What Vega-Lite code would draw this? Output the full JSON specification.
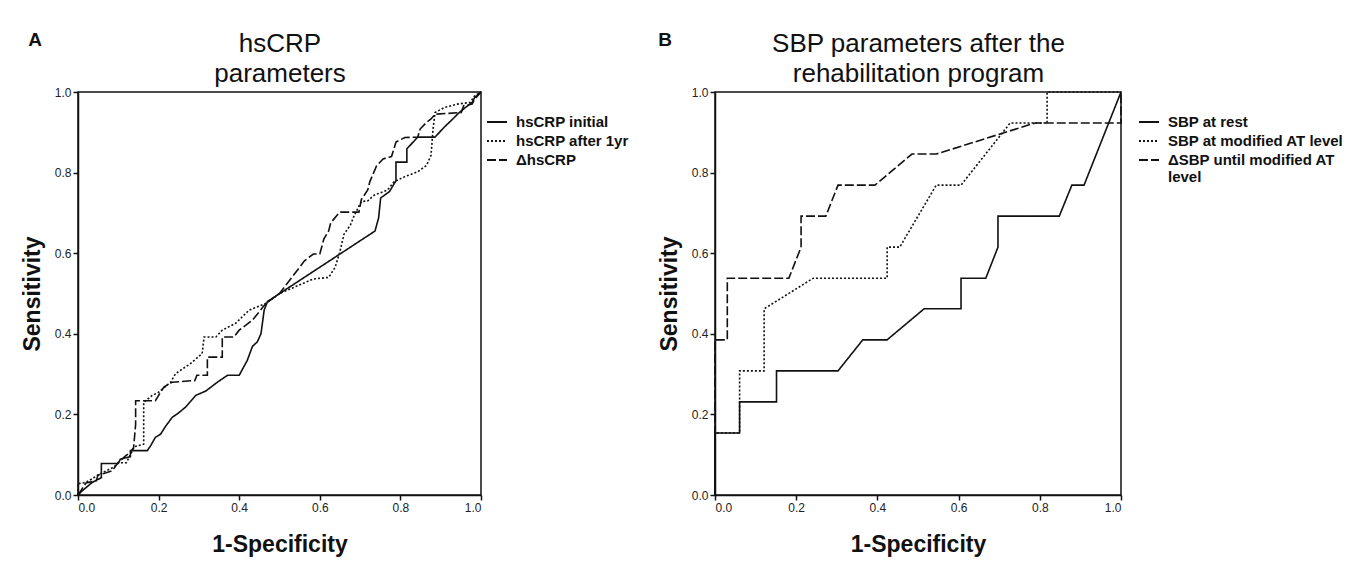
{
  "$schema": "https://vega.github.io/schema/vega-lite/v6.json",
  "background": "white",
  "padding": {"left": 20, "top": 29, "right": 5, "bottom": 5},
  "config": {
    "font": "Liberation Sans",
    "view": {"stroke": "#111", "strokeWidth": 1.5},
    "axis": {"grid": false, "domainColor": "#111", "domainWidth": 1.5, "tickColor": "#111", "tickWidth": 1.5, "tickSize": 5, "labelFont": "Liberation Sans Narrow, Liberation Sans", "labelFontSize": 12, "labelColor": "#222", "labelPadding": 2, "titleFont": "Liberation Sans", "titleFontSize": 23, "titleFontWeight": "bold", "titleColor": "#111"},
    "legend": {"labelFont": "Liberation Sans", "labelFontSize": 15, "labelFontWeight": "bold", "labelColor": "#111", "symbolType": "stroke", "symbolSize": 400, "symbolStrokeWidth": 2, "symbolStrokeColor": "#111", "rowPadding": 0, "labelOffset": 8, "padding": 0, "labelLimit": 400}
  },
  "datasets": {
    "rocA": [
      {"s":"hsCRP initial","i":0,"x":0,"y":0},
      {"s":"hsCRP initial","i":1,"x":0.01,"y":0.01},
      {"s":"hsCRP initial","i":2,"x":0.035,"y":0.031},
      {"s":"hsCRP initial","i":3,"x":0.058,"y":0.043},
      {"s":"hsCRP initial","i":4,"x":0.058,"y":0.078},
      {"s":"hsCRP initial","i":5,"x":0.1,"y":0.078},
      {"s":"hsCRP initial","i":6,"x":0.105,"y":0.089},
      {"s":"hsCRP initial","i":7,"x":0.13,"y":0.095},
      {"s":"hsCRP initial","i":8,"x":0.13,"y":0.11},
      {"s":"hsCRP initial","i":9,"x":0.172,"y":0.11},
      {"s":"hsCRP initial","i":10,"x":0.18,"y":0.122},
      {"s":"hsCRP initial","i":11,"x":0.192,"y":0.143},
      {"s":"hsCRP initial","i":12,"x":0.205,"y":0.151},
      {"s":"hsCRP initial","i":13,"x":0.217,"y":0.17},
      {"s":"hsCRP initial","i":14,"x":0.234,"y":0.193},
      {"s":"hsCRP initial","i":15,"x":0.246,"y":0.201},
      {"s":"hsCRP initial","i":16,"x":0.267,"y":0.218},
      {"s":"hsCRP initial","i":17,"x":0.292,"y":0.247},
      {"s":"hsCRP initial","i":18,"x":0.317,"y":0.258},
      {"s":"hsCRP initial","i":19,"x":0.346,"y":0.28},
      {"s":"hsCRP initial","i":20,"x":0.371,"y":0.297},
      {"s":"hsCRP initial","i":21,"x":0.4,"y":0.297},
      {"s":"hsCRP initial","i":22,"x":0.42,"y":0.334},
      {"s":"hsCRP initial","i":23,"x":0.433,"y":0.369},
      {"s":"hsCRP initial","i":24,"x":0.445,"y":0.38},
      {"s":"hsCRP initial","i":25,"x":0.454,"y":0.4},
      {"s":"hsCRP initial","i":26,"x":0.462,"y":0.459},
      {"s":"hsCRP initial","i":27,"x":0.47,"y":0.48},
      {"s":"hsCRP initial","i":28,"x":0.737,"y":0.655},
      {"s":"hsCRP initial","i":29,"x":0.746,"y":0.688},
      {"s":"hsCRP initial","i":30,"x":0.751,"y":0.737},
      {"s":"hsCRP initial","i":31,"x":0.773,"y":0.753},
      {"s":"hsCRP initial","i":32,"x":0.789,"y":0.78},
      {"s":"hsCRP initial","i":33,"x":0.789,"y":0.826},
      {"s":"hsCRP initial","i":34,"x":0.816,"y":0.826},
      {"s":"hsCRP initial","i":35,"x":0.816,"y":0.859},
      {"s":"hsCRP initial","i":36,"x":0.843,"y":0.888},
      {"s":"hsCRP initial","i":37,"x":0.886,"y":0.888},
      {"s":"hsCRP initial","i":38,"x":0.908,"y":0.912},
      {"s":"hsCRP initial","i":39,"x":0.93,"y":0.933},
      {"s":"hsCRP initial","i":40,"x":0.946,"y":0.949},
      {"s":"hsCRP initial","i":41,"x":0.962,"y":0.962},
      {"s":"hsCRP initial","i":42,"x":0.978,"y":0.974},
      {"s":"hsCRP initial","i":43,"x":0.984,"y":0.986},
      {"s":"hsCRP initial","i":44,"x":1,"y":1},
      {"s":"hsCRP after 1yr","i":0,"x":0,"y":0},
      {"s":"hsCRP after 1yr","i":1,"x":0,"y":0.028},
      {"s":"hsCRP after 1yr","i":2,"x":0.018,"y":0.031},
      {"s":"hsCRP after 1yr","i":3,"x":0.035,"y":0.04},
      {"s":"hsCRP after 1yr","i":4,"x":0.05,"y":0.05},
      {"s":"hsCRP after 1yr","i":5,"x":0.07,"y":0.06},
      {"s":"hsCRP after 1yr","i":6,"x":0.09,"y":0.07},
      {"s":"hsCRP after 1yr","i":7,"x":0.1,"y":0.08},
      {"s":"hsCRP after 1yr","i":8,"x":0.12,"y":0.08},
      {"s":"hsCRP after 1yr","i":9,"x":0.13,"y":0.1},
      {"s":"hsCRP after 1yr","i":10,"x":0.14,"y":0.12},
      {"s":"hsCRP after 1yr","i":11,"x":0.163,"y":0.126},
      {"s":"hsCRP after 1yr","i":12,"x":0.163,"y":0.23},
      {"s":"hsCRP after 1yr","i":13,"x":0.184,"y":0.247},
      {"s":"hsCRP after 1yr","i":14,"x":0.2,"y":0.255},
      {"s":"hsCRP after 1yr","i":15,"x":0.23,"y":0.28},
      {"s":"hsCRP after 1yr","i":16,"x":0.242,"y":0.301},
      {"s":"hsCRP after 1yr","i":17,"x":0.279,"y":0.326},
      {"s":"hsCRP after 1yr","i":18,"x":0.308,"y":0.351},
      {"s":"hsCRP after 1yr","i":19,"x":0.313,"y":0.392},
      {"s":"hsCRP after 1yr","i":20,"x":0.342,"y":0.392},
      {"s":"hsCRP after 1yr","i":21,"x":0.358,"y":0.409},
      {"s":"hsCRP after 1yr","i":22,"x":0.391,"y":0.426},
      {"s":"hsCRP after 1yr","i":23,"x":0.425,"y":0.459},
      {"s":"hsCRP after 1yr","i":24,"x":0.466,"y":0.475},
      {"s":"hsCRP after 1yr","i":25,"x":0.5,"y":0.5},
      {"s":"hsCRP after 1yr","i":26,"x":0.584,"y":0.536},
      {"s":"hsCRP after 1yr","i":27,"x":0.622,"y":0.54},
      {"s":"hsCRP after 1yr","i":28,"x":0.638,"y":0.565},
      {"s":"hsCRP after 1yr","i":29,"x":0.649,"y":0.6},
      {"s":"hsCRP after 1yr","i":30,"x":0.66,"y":0.647},
      {"s":"hsCRP after 1yr","i":31,"x":0.676,"y":0.67},
      {"s":"hsCRP after 1yr","i":32,"x":0.686,"y":0.695},
      {"s":"hsCRP after 1yr","i":33,"x":0.703,"y":0.728},
      {"s":"hsCRP after 1yr","i":34,"x":0.719,"y":0.73},
      {"s":"hsCRP after 1yr","i":35,"x":0.735,"y":0.744},
      {"s":"hsCRP after 1yr","i":36,"x":0.768,"y":0.757},
      {"s":"hsCRP after 1yr","i":37,"x":0.784,"y":0.777},
      {"s":"hsCRP after 1yr","i":38,"x":0.811,"y":0.79},
      {"s":"hsCRP after 1yr","i":39,"x":0.843,"y":0.802},
      {"s":"hsCRP after 1yr","i":40,"x":0.865,"y":0.818},
      {"s":"hsCRP after 1yr","i":41,"x":0.876,"y":0.843},
      {"s":"hsCRP after 1yr","i":42,"x":0.881,"y":0.908},
      {"s":"hsCRP after 1yr","i":43,"x":0.886,"y":0.949},
      {"s":"hsCRP after 1yr","i":44,"x":0.908,"y":0.961},
      {"s":"hsCRP after 1yr","i":45,"x":0.941,"y":0.97},
      {"s":"hsCRP after 1yr","i":46,"x":0.973,"y":0.974},
      {"s":"hsCRP after 1yr","i":47,"x":0.984,"y":0.99},
      {"s":"hsCRP after 1yr","i":48,"x":1,"y":1},
      {"s":"ΔhsCRP","i":0,"x":0,"y":0},
      {"s":"ΔhsCRP","i":1,"x":0.01,"y":0.015},
      {"s":"ΔhsCRP","i":2,"x":0.02,"y":0.03},
      {"s":"ΔhsCRP","i":3,"x":0.045,"y":0.035},
      {"s":"ΔhsCRP","i":4,"x":0.05,"y":0.05},
      {"s":"ΔhsCRP","i":5,"x":0.07,"y":0.055},
      {"s":"ΔhsCRP","i":6,"x":0.085,"y":0.06},
      {"s":"ΔhsCRP","i":7,"x":0.1,"y":0.081},
      {"s":"ΔhsCRP","i":8,"x":0.118,"y":0.097},
      {"s":"ΔhsCRP","i":9,"x":0.13,"y":0.106},
      {"s":"ΔhsCRP","i":10,"x":0.138,"y":0.118},
      {"s":"ΔhsCRP","i":11,"x":0.143,"y":0.175},
      {"s":"ΔhsCRP","i":12,"x":0.143,"y":0.234},
      {"s":"ΔhsCRP","i":13,"x":0.192,"y":0.234},
      {"s":"ΔhsCRP","i":14,"x":0.213,"y":0.268},
      {"s":"ΔhsCRP","i":15,"x":0.234,"y":0.28},
      {"s":"ΔhsCRP","i":16,"x":0.29,"y":0.284},
      {"s":"ΔhsCRP","i":17,"x":0.295,"y":0.297},
      {"s":"ΔhsCRP","i":18,"x":0.321,"y":0.297},
      {"s":"ΔhsCRP","i":19,"x":0.321,"y":0.342},
      {"s":"ΔhsCRP","i":20,"x":0.358,"y":0.342},
      {"s":"ΔhsCRP","i":21,"x":0.358,"y":0.392},
      {"s":"ΔhsCRP","i":22,"x":0.387,"y":0.392},
      {"s":"ΔhsCRP","i":23,"x":0.4,"y":0.409},
      {"s":"ΔhsCRP","i":24,"x":0.433,"y":0.434},
      {"s":"ΔhsCRP","i":25,"x":0.466,"y":0.475},
      {"s":"ΔhsCRP","i":26,"x":0.5,"y":0.5},
      {"s":"ΔhsCRP","i":27,"x":0.562,"y":0.581},
      {"s":"ΔhsCRP","i":28,"x":0.584,"y":0.598},
      {"s":"ΔhsCRP","i":29,"x":0.6,"y":0.598},
      {"s":"ΔhsCRP","i":30,"x":0.61,"y":0.635},
      {"s":"ΔhsCRP","i":31,"x":0.622,"y":0.655},
      {"s":"ΔhsCRP","i":32,"x":0.627,"y":0.675},
      {"s":"ΔhsCRP","i":33,"x":0.649,"y":0.702},
      {"s":"ΔhsCRP","i":34,"x":0.697,"y":0.702},
      {"s":"ΔhsCRP","i":35,"x":0.703,"y":0.733},
      {"s":"ΔhsCRP","i":36,"x":0.719,"y":0.757},
      {"s":"ΔhsCRP","i":37,"x":0.724,"y":0.777},
      {"s":"ΔhsCRP","i":38,"x":0.741,"y":0.817},
      {"s":"ΔhsCRP","i":39,"x":0.757,"y":0.834},
      {"s":"ΔhsCRP","i":40,"x":0.778,"y":0.84},
      {"s":"ΔhsCRP","i":41,"x":0.784,"y":0.859},
      {"s":"ΔhsCRP","i":42,"x":0.789,"y":0.876},
      {"s":"ΔhsCRP","i":43,"x":0.811,"y":0.887},
      {"s":"ΔhsCRP","i":44,"x":0.843,"y":0.888},
      {"s":"ΔhsCRP","i":45,"x":0.849,"y":0.908},
      {"s":"ΔhsCRP","i":46,"x":0.865,"y":0.925},
      {"s":"ΔhsCRP","i":47,"x":0.876,"y":0.933},
      {"s":"ΔhsCRP","i":48,"x":0.886,"y":0.945},
      {"s":"ΔhsCRP","i":49,"x":0.951,"y":0.949},
      {"s":"ΔhsCRP","i":50,"x":0.957,"y":0.966},
      {"s":"ΔhsCRP","i":51,"x":0.978,"y":0.97},
      {"s":"ΔhsCRP","i":52,"x":0.984,"y":0.982},
      {"s":"ΔhsCRP","i":53,"x":1,"y":1}
    ],
    "rocB": [
      {"s":"SBP at rest","i":0,"x":0,"y":0},
      {"s":"SBP at rest","i":1,"x":0,"y":0.154},
      {"s":"SBP at rest","i":2,"x":0.0606,"y":0.154},
      {"s":"SBP at rest","i":3,"x":0.0606,"y":0.231},
      {"s":"SBP at rest","i":4,"x":0.1515,"y":0.231},
      {"s":"SBP at rest","i":5,"x":0.1515,"y":0.308},
      {"s":"SBP at rest","i":6,"x":0.303,"y":0.308},
      {"s":"SBP at rest","i":7,"x":0.364,"y":0.385},
      {"s":"SBP at rest","i":8,"x":0.424,"y":0.385},
      {"s":"SBP at rest","i":9,"x":0.515,"y":0.462},
      {"s":"SBP at rest","i":10,"x":0.606,"y":0.462},
      {"s":"SBP at rest","i":11,"x":0.606,"y":0.538},
      {"s":"SBP at rest","i":12,"x":0.667,"y":0.538},
      {"s":"SBP at rest","i":13,"x":0.697,"y":0.615},
      {"s":"SBP at rest","i":14,"x":0.697,"y":0.692},
      {"s":"SBP at rest","i":15,"x":0.848,"y":0.692},
      {"s":"SBP at rest","i":16,"x":0.879,"y":0.769},
      {"s":"SBP at rest","i":17,"x":0.909,"y":0.769},
      {"s":"SBP at rest","i":18,"x":1,"y":1},
      {"s":"SBP at modified AT level","i":0,"x":0,"y":0},
      {"s":"SBP at modified AT level","i":1,"x":0,"y":0.154},
      {"s":"SBP at modified AT level","i":2,"x":0.0606,"y":0.154},
      {"s":"SBP at modified AT level","i":3,"x":0.0606,"y":0.308},
      {"s":"SBP at modified AT level","i":4,"x":0.121,"y":0.308},
      {"s":"SBP at modified AT level","i":5,"x":0.121,"y":0.462},
      {"s":"SBP at modified AT level","i":6,"x":0.242,"y":0.538},
      {"s":"SBP at modified AT level","i":7,"x":0.424,"y":0.538},
      {"s":"SBP at modified AT level","i":8,"x":0.424,"y":0.615},
      {"s":"SBP at modified AT level","i":9,"x":0.455,"y":0.615},
      {"s":"SBP at modified AT level","i":10,"x":0.545,"y":0.769},
      {"s":"SBP at modified AT level","i":11,"x":0.606,"y":0.769},
      {"s":"SBP at modified AT level","i":12,"x":0.727,"y":0.923},
      {"s":"SBP at modified AT level","i":13,"x":0.818,"y":0.923},
      {"s":"SBP at modified AT level","i":14,"x":0.818,"y":1},
      {"s":"SBP at modified AT level","i":15,"x":1,"y":1},
      {"s":"ΔSBP until modified AT level","i":0,"x":0,"y":0},
      {"s":"ΔSBP until modified AT level","i":1,"x":0,"y":0.385},
      {"s":"ΔSBP until modified AT level","i":2,"x":0.0303,"y":0.385},
      {"s":"ΔSBP until modified AT level","i":3,"x":0.0303,"y":0.538},
      {"s":"ΔSBP until modified AT level","i":4,"x":0.182,"y":0.538},
      {"s":"ΔSBP until modified AT level","i":5,"x":0.212,"y":0.615},
      {"s":"ΔSBP until modified AT level","i":6,"x":0.212,"y":0.692},
      {"s":"ΔSBP until modified AT level","i":7,"x":0.273,"y":0.692},
      {"s":"ΔSBP until modified AT level","i":8,"x":0.303,"y":0.769},
      {"s":"ΔSBP until modified AT level","i":9,"x":0.394,"y":0.769},
      {"s":"ΔSBP until modified AT level","i":10,"x":0.485,"y":0.846},
      {"s":"ΔSBP until modified AT level","i":11,"x":0.545,"y":0.846},
      {"s":"ΔSBP until modified AT level","i":12,"x":0.788,"y":0.923},
      {"s":"ΔSBP until modified AT level","i":13,"x":1,"y":0.923},
      {"s":"ΔSBP until modified AT level","i":14,"x":1,"y":1}
    ]
  },
  "bounds": "flush",
  "spacing": 234,
  "resolve": {"scale": {"strokeDash": "independent"}, "legend": {"strokeDash": "independent"}},
  "hconcat": [
    {
      "width": 403,
      "height": 403,
      "data": {"name": "rocA"},
      "title": {"text": "A", "anchor": "start", "frame": "bounds", "fontSize": 19, "fontWeight": "bold", "color": "#111", "dx": 7, "dy": 24},
      "layer": [
        {
          "mark": {"type": "line", "strokeWidth": 1.6, "color": "#111"},
          "encoding": {
            "x": {"field": "x", "type": "quantitative", "scale": {"domain": [0, 1], "nice": false}, "axis": {"orient": "bottom", "values": [0, 0.2, 0.4, 0.6, 0.8, 1], "format": ".1f", "title": "1-Specificity", "titlePadding": 20}},
            "y": {"field": "y", "type": "quantitative", "scale": {"domain": [0, 1], "nice": false}, "axis": {"values": [0, 0.2, 0.4, 0.6, 0.8, 1], "format": ".1f", "title": "Sensitivity", "titlePadding": 10}},
            "strokeDash": {"field": "s", "type": "nominal", "scale": {"domain": ["hsCRP initial", "hsCRP after 1yr", "ΔhsCRP"], "range": [[1, 0], [2, 2], [9, 3]]}, "legend": {"title": null, "orient": "none", "legendX": 408, "legendY": 19}},
            "order": {"field": "i", "type": "quantitative"}
          }
        },
        {
          "mark": {"type": "rule", "opacity": 0},
          "encoding": {
            "x": {"datum": 0, "type": "quantitative", "axis": {"orient": "top", "labels": false, "ticks": false, "domain": false, "title": ["hsCRP", "parameters"], "titleFontSize": 26, "titleFontWeight": "normal", "titleLineHeight": 30, "titlePadding": 6}}
          }
        }
      ]
    },
    {
      "width": 406,
      "height": 403,
      "data": {"name": "rocB"},
      "title": {"text": "B", "anchor": "start", "frame": "bounds", "fontSize": 19, "fontWeight": "bold", "color": "#111", "dx": 0, "dy": 24},
      "layer": [
        {
          "mark": {"type": "line", "strokeWidth": 1.6, "color": "#111"},
          "encoding": {
            "x": {"field": "x", "type": "quantitative", "scale": {"domain": [0, 1], "nice": false}, "axis": {"orient": "bottom", "values": [0, 0.2, 0.4, 0.6, 0.8, 1], "format": ".1f", "title": "1-Specificity", "titlePadding": 20}},
            "y": {"field": "y", "type": "quantitative", "scale": {"domain": [0, 1], "nice": false}, "axis": {"values": [0, 0.2, 0.4, 0.6, 0.8, 1], "format": ".1f", "title": "Sensitivity", "titlePadding": 10}},
            "strokeDash": {"field": "s", "type": "nominal", "scale": {"domain": ["SBP at rest", "SBP at modified AT level", "ΔSBP until modified AT level"], "range": [[1, 0], [2, 2], [9, 3]]}, "legend": {"title": null, "orient": "none", "legendX": 423, "legendY": 19, "labelExpr": "datum.label == 'ΔSBP until modified AT level' ? ['ΔSBP until modified AT', 'level'] : datum.label"}},
            "order": {"field": "i", "type": "quantitative"}
          }
        },
        {
          "mark": {"type": "rule", "opacity": 0},
          "encoding": {
            "x": {"datum": 0, "type": "quantitative", "axis": {"orient": "top", "labels": false, "ticks": false, "domain": false, "title": ["SBP parameters after the", "rehabilitation program"], "titleFontSize": 26, "titleFontWeight": "normal", "titleLineHeight": 30, "titlePadding": 6}}
          }
        }
      ]
    }
  ]
}
